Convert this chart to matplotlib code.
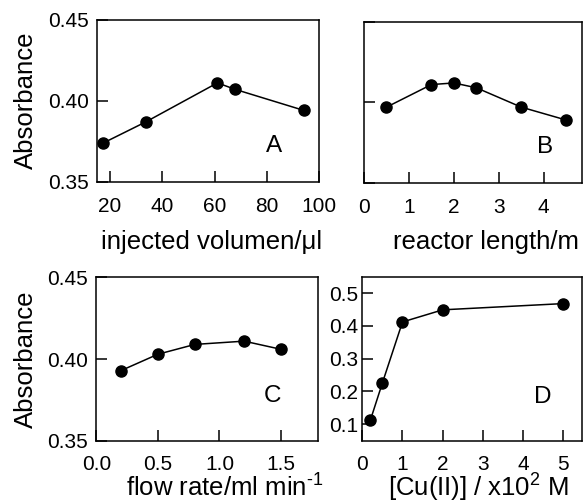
import numpy as np
import matplotlib
matplotlib.use("Agg")
import matplotlib.pyplot as plt

# Data
vol_x = [17.4, 33.7, 61.1, 67.9, 94.3]
vol_abs = [0.374, 0.387, 0.411, 0.407, 0.394]

len_x = [0.5, 1.5, 2.0, 2.5, 3.5, 4.5]
len_abs = [0.397, 0.411, 0.412, 0.409, 0.397, 0.389]

flow_x = [0.2, 0.5, 0.8, 1.2, 1.5]
flow_abs = [0.393, 0.403, 0.409, 0.411, 0.406]

cu_x = [0.2, 0.5, 1.0, 2.0, 5.0]
cu_abs = [0.112, 0.226, 0.412, 0.449, 0.468]

plt.rcParams["font.family"] = ["Liberation Sans", "DejaVu Sans"]
plt.rcParams["mathtext.fontset"] = "custom"
plt.rcParams["mathtext.rm"] = "Liberation Sans"
plt.rcParams["mathtext.it"] = "Liberation Sans"

fig = plt.figure(figsize=(5.83, 5.04), dpi=100)

axA = fig.add_axes([0.1664, 0.6389, 0.3808, 0.3224])
axB = fig.add_axes([0.6244, 0.637, 0.3746, 0.320])
axC = fig.add_axes([0.1652, 0.125, 0.3803, 0.3248])
axD = fig.add_axes([0.6214, 0.1256, 0.3766, 0.3254])

line_kw = dict(color="k", lw=1.1, marker="o", ms=8, mfc="k", mec="k")

for ax in (axA, axB, axC, axD):
    for s in ax.spines.values():
        s.set_linewidth(1.1)
    ax.tick_params(direction="in", length=8, width=1.1, labelsize=15,
                   top=False, right=False)
    ax.tick_params(axis="x", pad=11)
    ax.tick_params(axis="y", pad=6)

# bottom row sits a little tighter to its labels
for ax in (axC, axD):
    ax.tick_params(axis="x", pad=10)


def xlabel(ax, text, x, y):
    ax.set_xlabel(text, fontsize=18.5)
    ax.xaxis.set_label_coords(x, y)
    ax.xaxis.label.set_va("baseline")


def letter(ax, s, x, y):
    ax.text(x, y, s, transform=ax.transAxes, fontsize=17.5,
            ha="center", va="baseline")


# Panel A
axA.plot(vol_x, vol_abs, **line_kw)
axA.set_xlim(15, 100)
axA.set_ylim(0.35, 0.45)
axA.set_xticks([20, 40, 60, 80, 100])
axA.set_yticks([0.35, 0.40, 0.45])
axA.set_yticklabels(["0.35", "0.40", "0.45"])
axA.set_ylabel("Absorbance", fontsize=18.5)
axA.yaxis.set_label_coords(-0.265, 0.5)
xlabel(axA, "injected volumen/\u03bcl", 0.515, -0.412)
letter(axA, "A", 0.797, 0.185)

# Panel B
axB.plot(len_x, len_abs, **line_kw)
axB.set_xlim(0, 4.86)
axB.set_ylim(0.35, 0.45)
axB.set_xticks([0, 1, 2, 3, 4])
axB.set_yticks([0.35, 0.40, 0.45])
axB.set_yticklabels([])
xlabel(axB, "reactor length/m", 0.56, -0.411)
letter(axB, "B", 0.828, 0.186)

# Panel C
axC.plot(flow_x, flow_abs, **line_kw)
axC.set_xlim(0, 1.8)
axC.set_ylim(0.35, 0.45)
axC.set_xticks([0.0, 0.5, 1.0, 1.5])
axC.set_xticklabels(["0.0", "0.5", "1.0", "1.5"])
axC.set_yticks([0.35, 0.40, 0.45])
axC.set_yticklabels(["0.35", "0.40", "0.45"])
axC.set_ylabel("Absorbance", fontsize=18.5)
axC.yaxis.set_label_coords(-0.265, 0.5)
xlabel(axC, "flow rate/ml min$^{\\text{-1}}$", 0.58, -0.338)
letter(axC, "C", 0.795, 0.238)

# Panel D
axD.plot(cu_x, cu_abs, **line_kw)
axD.set_xlim(0, 5.46)
axD.set_ylim(0.05, 0.55)
axD.set_xticks([0, 1, 2, 3, 4, 5])
axD.set_yticks([0.1, 0.2, 0.3, 0.4, 0.5])
axD.tick_params(axis="y", pad=3)
xlabel(axD, "[Cu(II)] / x10$^{2}$ M", 0.53, -0.34)
letter(axD, "D", 0.822, 0.23)

fig.savefig("out.png", dpi=100)
